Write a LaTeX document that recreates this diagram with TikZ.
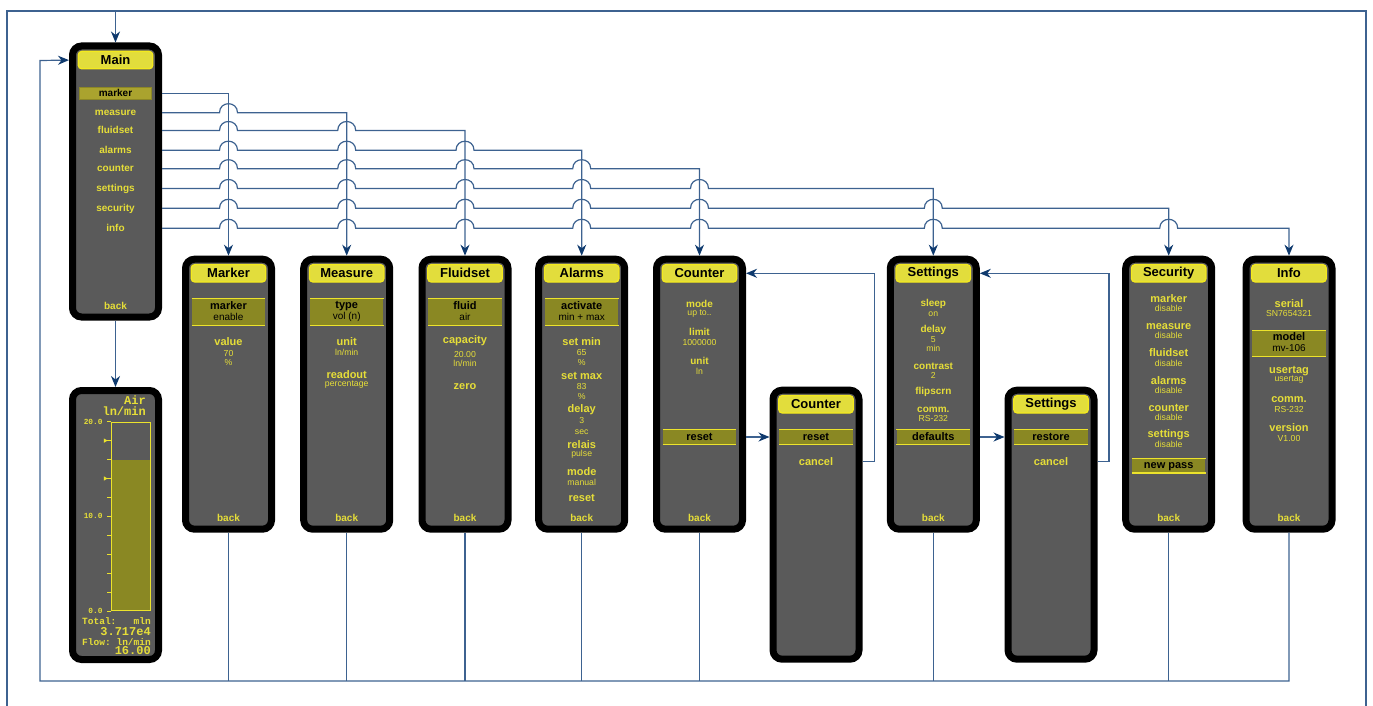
\documentclass[tikz,border=0pt]{standalone}
\usepackage{fontspec}
\setmainfont{Liberation Sans}
\newfontfamily\dispfont{Liberation Mono}
\usetikzlibrary{arrows.meta}
\definecolor{panelgray}{HTML}{5A5A5A}
\definecolor{ytext}{HTML}{E6DE38}
\definecolor{titlefill}{HTML}{E2DD3C}
\definecolor{titleedge}{HTML}{F4EA1E}
\definecolor{barfill}{HTML}{8A8823}
\definecolor{baredge}{HTML}{ECE32C}
\definecolor{mainbar}{HTML}{AAA32E}
\definecolor{mainbaredge}{HTML}{8C8726}
\definecolor{linecol}{HTML}{3D6290}
\definecolor{tipcol}{HTML}{0F3A6E}
\newcommand\fsz[1]{\fontsize{#1}{#1}\selectfont}
\newcommand\mkpanel[5]{%
  \node[panel, minimum height={#4-7}] (#1) at (#2,{#3+#4/2}) {};
  \node[titlebar] (#1-t) at (#2,{#3+17.6}) {#5};}
\newcommand\tx[5]{\node[#1, anchor=base] (#2) at (#3,#4) {#5};}
\newcommand\mkbar[4]{%
  \node[hbarsty, minimum height={#4-#3}] (#1) at (#2,{(#3+#4)/2}) {};
  \draw[baredge, line width=1.3pt] (#1.north west) -- (#1.north east) (#1.south west) -- (#1.south east);}
\newcommand\menuline[4]{%
  \draw[arr] (#1) \foreach \h in {#3}{ -- ({\h-9},#2) .. controls +(0,-12) and +(0,-12) .. ({\h+9},#2)} -| (#4.north);}
\begin{document}
\begin{tikzpicture}[x=1pt,y=-1pt,
  panel/.style={draw=black, fill=panelgray, line width=7pt, rounded corners=9pt, minimum width=86pt, inner sep=0pt},
  titlebar/.style={draw=titleedge, fill=titlefill, line width=1.3pt, rounded corners=3.5pt, minimum width=74.5pt, minimum height=17.4pt, inner sep=0pt, font=\bfseries\fsz{13}, text=black},
  hbarsty/.style={fill=barfill, minimum width=73.3pt, inner sep=0pt},
  mbar/.style={fill=mainbar, draw=mainbaredge, line width=1pt, minimum width=72.3pt, minimum height=12.3pt, inner sep=0pt},
  mi/.style={inner sep=0pt, text=ytext, font=\bfseries\fsz{10}},
  mib/.style={mi, text=black},
  hd/.style={inner sep=0pt, text=ytext, font=\bfseries\fsz{11}},
  hdt/.style={inner sep=0pt, text=ytext, font=\bfseries\fsz{10}},
  val/.style={inner sep=0pt, text=ytext, font=\fsz{8.7}},
  bhd/.style={inner sep=0pt, text=black, font=\bfseries\fsz{11}},
  bval/.style={inner sep=0pt, text=black, font=\fsz{10}},
  bk/.style={inner sep=0pt, text=ytext, font=\bfseries\fsz{10}},
  dtext/.style={inner sep=0pt, text=ytext, font=\dispfont\bfseries\fsz{#1}},
  conn/.style={draw=linecol, line width=1.2pt},
  arr/.style={conn, -{Stealth[length=11pt,width=9pt,inset=3.5pt,color=tipcol]}}
]
\useasboundingbox (0,0) rectangle (1373,706);

% ---------------- Main ----------------
\mkpanel{main}{115.5}{42.5}{278}{Main}
\node[mbar] (main-bar) at (115.4,93.4) {};
\tx{mib}{mi1}{115.5}{97}{marker}
\tx{mi}{mi2}{115.5}{115.9}{measure}
\tx{mi}{mi3}{115.5}{133.7}{fluidset}
\tx{mi}{mi4}{115.5}{153.4}{alarms}
\tx{mi}{mi5}{115.5}{171.9}{counter}
\tx{mi}{mi6}{115.5}{191.7}{settings}
\tx{mi}{mi7}{115.5}{211.5}{security}
\tx{mi}{mi8}{115.5}{231.5}{info}
\tx{bk}{main-back}{115.5}{309.3}{back}

% ---------------- Display ----------------
\node[panel, minimum height=269] (disp) at (115.5,525) {};
\node[dtext=12, anchor=base east] (d-air) at (146,404.5) {Air};
\node[dtext=12, anchor=base east] (d-unit) at (146,415) {ln/min};
\fill[barfill] (111.2,459.6) rectangle (150.5,610.5);
\node[draw=baredge, line width=1pt, minimum width=39.3pt, minimum height=188.3pt, inner sep=0pt] (d-scale) at (130.85,516.35) {};
\foreach \k in {0,...,10} \draw[baredge, line width=1pt] (107.3,{421.7+\k*18.93}) -- (111,{421.7+\k*18.93});
\foreach \yy in {440.6,478.5} \fill[baredge] (103.8,{\yy-2.2}) -- (107.6,\yy) -- (103.8,{\yy+2.2}) -- cycle;
\node[dtext=7.8, anchor=east] (d-20) at (102.7,421.7) {20.0};
\node[dtext=7.8, anchor=east] (d-10) at (102.7,516.35) {10.0};
\node[dtext=7.8, anchor=east] (d-0) at (102.7,611) {0.0};
\node[dtext=9.5, anchor=base west] (d-tot) at (82,624.3) {Total:};
\node[dtext=9.5, anchor=base east] (d-mln) at (151,624.3) {mln};
\node[dtext=12, anchor=base east] (d-totv) at (151,635) {3.717e4};
\node[dtext=9.5, anchor=base west] (d-flow) at (82,645) {Flow:};
\node[dtext=9.5, anchor=base east] (d-flu) at (151,645) {ln/min};
\node[dtext=12, anchor=base east] (d-flowv) at (151,654) {16.00};

% ---------------- Marker ----------------
\mkpanel{marker}{228.5}{255.7}{277}{Marker}
\mkbar{mk-bar}{228.5}{299}{325}
\tx{bhd}{mk1}{228.5}{309.3}{marker}
\tx{bval}{mk2}{228.5}{320}{enable}
\tx{hd}{mk3}{228.5}{345}{value}
\tx{val}{mk4}{228.5}{356}{70}
\tx{val}{mk5}{228.5}{365}{\%}
\tx{bk}{mk-back}{228.5}{521.7}{back}

% ---------------- Measure ----------------
\mkpanel{measure}{346.7}{255.7}{277}{Measure}
\mkbar{ms-bar}{346.7}{299}{325}
\tx{bhd}{ms1}{346.7}{308.5}{type}
\tx{bval}{ms2}{346.7}{319}{vol (n)}
\tx{hd}{ms3}{346.7}{345}{unit}
\tx{val}{ms4}{346.7}{355.5}{ln/min}
\tx{hd}{ms5}{346.7}{378.3}{readout}
\tx{val}{ms6}{346.7}{386.5}{percentage}
\tx{bk}{ms-back}{346.7}{521.7}{back}

% ---------------- Fluidset ----------------
\mkpanel{fluidset}{465}{255.7}{277}{Fluidset}
\mkbar{fl-bar}{465}{299}{325}
\tx{bhd}{fl1}{465}{309.3}{fluid}
\tx{bval}{fl2}{465}{320}{air}
\tx{hd}{fl3}{465}{343.5}{capacity}
\tx{val}{fl4}{465}{357.3}{20.00}
\tx{val}{fl5}{465}{366}{ln/min}
\tx{hd}{fl6}{465}{389.3}{zero}
\tx{bk}{fl-back}{465}{521.7}{back}

% ---------------- Alarms ----------------
\mkpanel{alarms}{581.7}{255.7}{277}{Alarms}
\mkbar{al-bar}{581.7}{299}{325}
\tx{bhd}{al1}{581.7}{309.3}{activate}
\tx{bval}{al2}{581.7}{320}{min + max}
\tx{hd}{al3}{581.7}{345}{set min}
\tx{val}{al4}{581.7}{355}{65}
\tx{val}{al5}{581.7}{365}{\%}
\tx{hd}{al6}{581.7}{379.3}{set max}
\tx{val}{al7}{581.7}{389.3}{83}
\tx{val}{al8}{581.7}{399}{\%}
\tx{hd}{al9}{581.7}{412.5}{delay}
\tx{val}{al10}{581.7}{423.3}{3}
\tx{val}{al11}{581.7}{434}{sec}
\tx{hd}{al12}{581.7}{448.3}{relais}
\tx{val}{al13}{581.7}{456.5}{pulse}
\tx{hd}{al14}{581.7}{475}{mode}
\tx{val}{al15}{581.7}{485}{manual}
\tx{hd}{al16}{581.7}{501.7}{reset}
\tx{bk}{al-back}{581.7}{521.7}{back}

% ---------------- Counter ----------------
\mkpanel{counter}{699.5}{255.7}{277}{Counter}
\tx{hdt}{co1}{699.5}{307.3}{mode}
\tx{val}{co2}{699.5}{315.5}{up to..}
\tx{hdt}{co3}{699.5}{335}{limit}
\tx{val}{co4}{699.5}{345}{1000000}
\tx{hdt}{co5}{699.5}{364.3}{unit}
\tx{val}{co6}{699.5}{374}{ln}
\mkbar{co-bar}{699.5}{430}{444}
\tx{bhd}{co7}{699.5}{440.5}{reset}
\tx{bk}{co-back}{699.5}{521.7}{back}

% ---------------- Counter popup ----------------
\mkpanel{cpop}{816}{386.7}{276}{Counter}
\mkbar{cp-bar}{816}{430}{444}
\tx{bhd}{cp1}{816}{440.5}{reset}
\tx{hd}{cp2}{816}{465}{cancel}

% ---------------- Settings ----------------
\mkpanel{settings}{933.3}{255.7}{277}{Settings}
\tx{hdt}{se1}{933.3}{306}{sleep}
\tx{val}{se2}{933.3}{316}{on}
\tx{hdt}{se3}{933.3}{332}{delay}
\tx{val}{se4}{933.3}{342.7}{5}
\tx{val}{se5}{933.3}{351.7}{min}
\tx{hdt}{se6}{933.3}{369.3}{contrast}
\tx{val}{se7}{933.3}{378.3}{2}
\tx{hdt}{se8}{933.3}{394.5}{flipscrn}
\tx{hdt}{se9}{933.3}{412.7}{comm.}
\tx{val}{se10}{933.3}{421.7}{RS-232}
\mkbar{se-bar}{933.3}{430}{444}
\tx{bhd}{se11}{933.3}{440.5}{defaults}
\tx{bk}{se-back}{933.3}{521.7}{back}

% ---------------- Settings popup ----------------
\mkpanel{spop}{1051}{386.7}{276}{Settings}
\mkbar{sp-bar}{1051}{430}{444}
\tx{bhd}{sp1}{1051}{440.5}{restore}
\tx{hd}{sp2}{1051}{465}{cancel}

% ---------------- Security ----------------
\mkpanel{security}{1168.7}{255.7}{277}{Security}
\tx{hd}{sc1}{1168.7}{302.3}{marker}
\tx{val}{sc2}{1168.7}{311.7}{disable}
\tx{hd}{sc3}{1168.7}{329.3}{measure}
\tx{val}{sc4}{1168.7}{338.3}{disable}
\tx{hd}{sc5}{1168.7}{356}{fluidset}
\tx{val}{sc6}{1168.7}{366}{disable}
\tx{hd}{sc7}{1168.7}{384}{alarms}
\tx{val}{sc8}{1168.7}{393.3}{disable}
\tx{hd}{sc9}{1168.7}{411.7}{counter}
\tx{val}{sc10}{1168.7}{420.7}{disable}
\tx{hd}{sc11}{1168.7}{437}{settings}
\tx{val}{sc12}{1168.7}{447.3}{disable}
\mkbar{sc-bar}{1168.7}{459}{472.7}
\tx{bhd}{sc13}{1168.7}{468.5}{new pass}
\tx{bk}{sc-back}{1168.7}{521.7}{back}

% ---------------- Info ----------------
\mkpanel{info}{1289}{255.7}{277}{Info}
\tx{hd}{in1}{1289}{307.3}{serial}
\tx{val}{in2}{1289}{316.7}{SN7654321}
\mkbar{in-bar}{1289}{330.7}{356}
\tx{bhd}{in3}{1289}{340.7}{model}
\tx{bval}{in4}{1289}{351.7}{mv-106}
\tx{hd}{in5}{1289}{373.5}{usertag}
\tx{val}{in6}{1289}{381.5}{usertag}
\tx{hd}{in7}{1289}{402.7}{comm.}
\tx{val}{in8}{1289}{412.3}{RS-232}
\tx{hd}{in9}{1289}{431.7}{version}
\tx{val}{in10}{1289}{441}{V1.00}
\tx{bk}{in-back}{1289}{521.7}{back}

% ---------------- Connectors ----------------
\coordinate (f1) at (7,706);
\coordinate (f2) at (7,11);
\coordinate (f3) at (1366,11);
\coordinate (f4) at (1366,706);
\draw[conn] (f1) -- (f2) -- (f3) -- (f4);
\draw[arr] (main.north |- f2) -- (main.north);
\draw[arr] (main.south) -- (disp.north);

\coordinate (mo1) at (162,93.8);
\coordinate (mo2) at (162,112.7);
\coordinate (mo3) at (162,130.5);
\coordinate (mo4) at (162,150.2);
\coordinate (mo5) at (162,168.7);
\coordinate (mo6) at (162,188.5);
\coordinate (mo7) at (162,208.3);
\coordinate (mo8) at (162,228.3);
\draw[arr] (mo1) -| (marker.north);
\menuline{mo2}{112.7}{228.5}{measure}
\menuline{mo3}{130.5}{228.5,346.7}{fluidset}
\menuline{mo4}{150.2}{228.5,346.7,465}{alarms}
\menuline{mo5}{168.7}{228.5,346.7,465,581.7}{counter}
\menuline{mo6}{188.5}{228.5,346.7,465,581.7,699.5}{settings}
\menuline{mo7}{208.3}{228.5,346.7,465,581.7,699.5,933.3}{security}
\menuline{mo8}{228.3}{228.5,346.7,465,581.7,699.5,933.3,1168.7}{info}

\coordinate (bot) at (40,681);
\coordinate (ret) at (40,60.5);
\foreach \p in {marker,measure,fluidset,alarms,counter,settings,security}
  \draw[conn] (\p.south) -- (\p.south |- bot);
\draw[arr] (info.south) |- (bot) -- (ret) -- (main.west |- main-t);

\draw[arr] (counter.east |- co-bar) -- (cpop.west |- co-bar);
\coordinate (cc) at (874.3,461.7);
\draw[arr] (cpop.east |- cc) -- (cc) |- (counter.east |- counter-t);
\draw[arr] (settings.east |- se-bar) -- (spop.west |- se-bar);
\coordinate (sc) at (1109,461.7);
\draw[arr] (spop.east |- sc) -- (sc) |- (settings.east |- settings-t);
\end{tikzpicture}
\end{document}
